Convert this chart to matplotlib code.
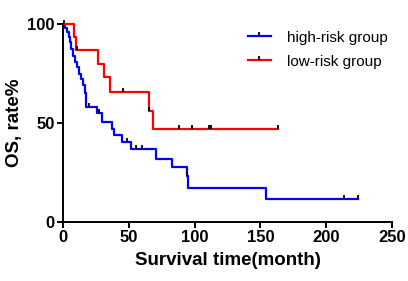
import numpy as np
import matplotlib.pyplot as plt
from matplotlib.path import Path
from matplotlib.lines import Line2D

# Step data (months, OS %)
high_times = [0, 1.5, 3, 4.5, 5.5, 6.5, 7.5, 9, 10.5, 12, 14, 15.5, 16.5, 17.5,
              26, 30, 37.5, 39, 45, 51.5, 70.5, 83, 94, 95, 154, 224]
high_surv = [100, 98, 96, 93.5, 91, 87.5, 84, 81, 78, 74.5, 72, 69, 65, 58,
             55, 50.5, 47, 44, 40.5, 37, 32, 28, 23, 17, 11.5, 11.5]
high_censor = [1, 20, 27.5, 49, 55.5, 60, 94, 213.5, 224]

low_times = [0, 8.5, 9.8, 26.5, 31, 36, 65.5, 68.5, 163.5]
low_surv = [100, 93.5, 87, 80, 73, 65.5, 56, 47, 47]
low_censor = [10.5, 46, 65.5, 88, 98, 111, 112.5, 163.5]

x_ticks = [0, 50, 100, 150, 200, 250]
y_ticks = [0, 50, 100]

plt.rcParams['font.family'] = ['Liberation Sans', 'DejaVu Sans']

# tick mark pointing up from the line
tick = Path([(0, 0), (0, 1)], [Path.MOVETO, Path.LINETO])


def step_value(times, surv, t):
    i = np.searchsorted(times, t, side='right') - 1
    return np.array(surv)[i]


fig = plt.figure(figsize=(4.08, 2.81), dpi=100)
ax = fig.add_axes([0.154, 0.21, 0.807, 0.705])

groups = [
    (high_times, high_surv, high_censor, '#0000ff', 'high-risk group'),
    (low_times, low_surv, low_censor, '#ff0000', 'low-risk group'),
]
handles = []
for times, surv, cens, col, lab in groups:
    ax.step(times, surv, where='post', color=col, lw=1.6, clip_on=False)
    ax.plot(cens, step_value(times, surv, cens), ls='none', marker=tick,
            ms=6, mew=1.3, mec='black', clip_on=False)
    handles.append(Line2D([], [], color=col, lw=1.6, marker=tick, ms=6,
                          mew=1.3, mec='black', label=lab))

ax.set_xlim(0, 250)
ax.set_ylim(0, 100)
ax.set_xticks(x_ticks)
ax.set_yticks(y_ticks)
for s in ['top', 'right']:
    ax.spines[s].set_visible(False)
for s in ['left', 'bottom']:
    ax.spines[s].set_linewidth(1.4)
ax.tick_params(width=1.4, length=4, labelsize=12, pad=2)
for lbl in ax.get_xticklabels() + ax.get_yticklabels():
    lbl.set_fontweight('bold')

ax.set_xlabel('Survival time(month)', fontsize=13.5, fontweight='bold', labelpad=5)
ax.set_ylabel('OS, rate%', fontsize=13.5, fontweight='bold', labelpad=3)

ax.legend(handles=handles, loc='upper right', bbox_to_anchor=(1.03, 1.035),
          frameon=False, fontsize=11, handlelength=1.5, handletextpad=1.1,
          labelspacing=0.65)

fig.savefig('out.png', dpi=100)
